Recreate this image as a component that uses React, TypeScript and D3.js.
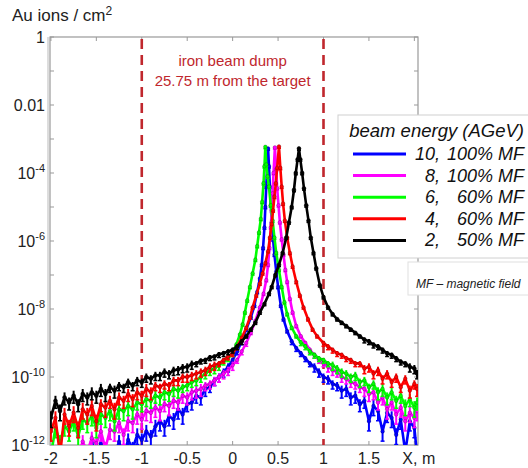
import React from "react";
import * as d3 from "d3";

// x (m), log10(Au ions / cm^2)
const e10: [number, number][] = [
  [-1.60,-12.2],[-1.55,-11.9],[-1.50,-12.3],[-1.45,-11.95],[-1.40,-12.3],[-1.35,-12.4],[-1.30,-12.3],[-1.25,-11.9],[-1.20,-12.3],[-1.15,-11.85],[-1.10,-12.1],[-1.05,-11.7],[-1.00,-11.85],[-0.95,-11.6],[-0.90,-11.75],[-0.85,-11.45],[-0.80,-11.3],[-0.75,-11.45],[-0.70,-11.15],[-0.65,-11.25],[-0.60,-10.95],[-0.55,-11.1],[-0.50,-10.8],[-0.45,-10.75],[-0.40,-10.55],[-0.35,-10.6],[-0.30,-10.35],[-0.25,-10.3],[-0.20,-10.1],[-0.15,-10.0],[-0.10,-9.85],[-0.05,-9.7],[0.00,-9.5],[0.05,-9.25],[0.10,-8.95],[0.15,-8.6],[0.20,-8.25],[0.24,-7.9],[0.27,-7.5],[0.30,-7.1],[0.32,-6.7],[0.335,-6.2],[0.35,-5.6],[0.36,-5.0],[0.37,-4.4],[0.38,-3.8],[0.39,-3.28],[0.40,-3.8],[0.41,-4.4],[0.42,-4.95],[0.43,-5.45],[0.445,-5.95],[0.46,-6.4],[0.48,-6.9],[0.50,-7.35],[0.53,-7.9],[0.56,-8.3],[0.60,-8.65],[0.65,-8.95],[0.70,-9.15],[0.75,-9.3],[0.80,-9.45],[0.85,-9.6],[0.90,-9.7],[0.95,-9.85],[1.00,-10.0],[1.05,-10.05],[1.10,-10.2],[1.15,-10.25],[1.20,-10.4],[1.25,-10.35],[1.30,-10.6],[1.35,-10.55],[1.40,-10.8],[1.45,-10.7],[1.50,-11.3],[1.55,-10.85],[1.60,-11.0],[1.65,-11.6],[1.70,-11.05],[1.75,-11.2],[1.80,-11.7],[1.85,-11.25],[1.90,-12.2],[1.95,-11.3],[2.00,-11.5],[2.03,-12.3]
];
const e8: [number, number][] = [
  [-1.70,-12.3],[-1.65,-11.9],[-1.60,-12.2],[-1.55,-11.8],[-1.50,-11.95],[-1.45,-11.6],[-1.40,-12.1],[-1.35,-11.55],[-1.30,-11.6],[-1.25,-11.35],[-1.20,-11.7],[-1.15,-11.3],[-1.10,-11.35],[-1.05,-11.1],[-1.00,-11.25],[-0.95,-11.0],[-0.90,-11.05],[-0.85,-10.9],[-0.80,-11.0],[-0.75,-10.8],[-0.70,-10.85],[-0.65,-10.7],[-0.60,-10.75],[-0.55,-10.55],[-0.50,-10.6],[-0.45,-10.45],[-0.40,-10.4],[-0.35,-10.35],[-0.30,-10.25],[-0.25,-10.2],[-0.20,-10.1],[-0.15,-10.0],[-0.10,-9.9],[-0.05,-9.8],[0.00,-9.65],[0.05,-9.5],[0.10,-9.25],[0.15,-9.0],[0.20,-8.7],[0.25,-8.35],[0.30,-7.95],[0.34,-7.55],[0.37,-7.15],[0.39,-6.7],[0.405,-6.2],[0.42,-5.6],[0.43,-5.1],[0.44,-4.6],[0.45,-4.0],[0.465,-3.25],[0.48,-3.9],[0.49,-4.45],[0.505,-4.95],[0.52,-5.45],[0.54,-5.95],[0.56,-6.4],[0.58,-6.85],[0.60,-7.2],[0.63,-7.7],[0.66,-8.1],[0.70,-8.5],[0.75,-8.8],[0.80,-9.0],[0.85,-9.2],[0.90,-9.35],[0.95,-9.5],[1.00,-9.6],[1.05,-9.7],[1.10,-9.8],[1.15,-9.85],[1.20,-10.0],[1.25,-10.05],[1.30,-10.15],[1.35,-10.2],[1.40,-10.3],[1.45,-10.35],[1.50,-10.5],[1.55,-10.45],[1.60,-10.75],[1.65,-10.6],[1.70,-10.95],[1.75,-10.75],[1.80,-11.1],[1.85,-10.9],[1.90,-11.3],[1.95,-11.05],[2.00,-11.2],[2.03,-11.0]
];
const e6: [number, number][] = [
  [-2.00,-12.3],[-1.95,-11.5],[-1.90,-11.9],[-1.85,-11.45],[-1.80,-11.6],[-1.75,-11.3],[-1.70,-11.75],[-1.65,-11.25],[-1.60,-11.35],[-1.55,-11.15],[-1.50,-11.5],[-1.45,-11.1],[-1.40,-11.2],[-1.35,-11.0],[-1.30,-11.3],[-1.25,-10.95],[-1.20,-11.0],[-1.15,-10.85],[-1.10,-10.95],[-1.05,-10.75],[-1.00,-10.8],[-0.95,-10.65],[-0.90,-10.7],[-0.85,-10.55],[-0.80,-10.6],[-0.75,-10.45],[-0.70,-10.5],[-0.65,-10.35],[-0.60,-10.4],[-0.55,-10.3],[-0.50,-10.25],[-0.45,-10.15],[-0.40,-10.1],[-0.35,-10.0],[-0.30,-9.9],[-0.25,-9.8],[-0.20,-9.75],[-0.15,-9.65],[-0.10,-9.55],[-0.05,-9.45],[0.00,-9.3],[0.04,-9.05],[0.08,-8.75],[0.11,-8.45],[0.135,-8.1],[0.16,-7.75],[0.19,-7.35],[0.22,-6.95],[0.25,-6.55],[0.27,-6.15],[0.29,-5.75],[0.31,-5.35],[0.325,-4.85],[0.34,-4.3],[0.35,-3.8],[0.36,-3.23],[0.37,-3.75],[0.385,-4.1],[0.40,-4.4],[0.42,-4.95],[0.44,-5.4],[0.46,-5.9],[0.48,-6.35],[0.51,-6.85],[0.54,-7.35],[0.57,-7.8],[0.60,-8.15],[0.65,-8.55],[0.70,-8.8],[0.75,-8.98],[0.80,-9.1],[0.85,-9.25],[0.90,-9.35],[0.95,-9.45],[1.00,-9.5],[1.05,-9.6],[1.10,-9.65],[1.15,-9.75],[1.20,-9.85],[1.25,-9.9],[1.30,-10.0],[1.35,-9.95],[1.40,-10.15],[1.45,-10.1],[1.50,-10.3],[1.55,-10.2],[1.60,-10.45],[1.65,-10.35],[1.70,-10.6],[1.75,-10.45],[1.80,-10.7],[1.85,-10.55],[1.90,-10.85],[1.95,-10.65],[2.00,-10.9],[2.03,-10.75]
];
const e4: [number, number][] = [
  [-2.00,-11.6],[-1.95,-11.2],[-1.90,-12.3],[-1.85,-11.1],[-1.80,-11.45],[-1.75,-11.05],[-1.70,-11.5],[-1.65,-10.95],[-1.60,-11.1],[-1.55,-10.85],[-1.50,-11.3],[-1.45,-10.8],[-1.40,-10.9],[-1.35,-10.7],[-1.30,-10.95],[-1.25,-10.6],[-1.20,-10.7],[-1.15,-10.5],[-1.10,-10.65],[-1.05,-10.45],[-1.00,-10.55],[-0.95,-10.35],[-0.90,-10.45],[-0.85,-10.25],[-0.80,-10.3],[-0.75,-10.2],[-0.70,-10.25],[-0.65,-10.1],[-0.60,-10.1],[-0.55,-10.0],[-0.50,-10.0],[-0.45,-9.95],[-0.40,-9.9],[-0.35,-9.85],[-0.30,-9.8],[-0.25,-9.7],[-0.20,-9.65],[-0.15,-9.6],[-0.10,-9.5],[-0.05,-9.4],[0.00,-9.3],[0.05,-9.1],[0.10,-8.85],[0.15,-8.55],[0.19,-8.25],[0.22,-7.95],[0.26,-7.6],[0.30,-7.25],[0.33,-6.95],[0.36,-6.65],[0.39,-6.3],[0.41,-5.9],[0.43,-5.5],[0.445,-5.1],[0.46,-4.7],[0.475,-4.3],[0.49,-3.85],[0.51,-3.22],[0.525,-3.85],[0.54,-4.4],[0.555,-4.9],[0.575,-5.4],[0.60,-5.9],[0.63,-6.35],[0.66,-6.75],[0.70,-7.2],[0.74,-7.6],[0.78,-7.95],[0.83,-8.3],[0.88,-8.6],[0.93,-8.8],[1.00,-9.0],[1.05,-9.1],[1.10,-9.2],[1.15,-9.3],[1.20,-9.35],[1.25,-9.45],[1.30,-9.5],[1.35,-9.6],[1.40,-9.6],[1.45,-9.75],[1.50,-9.7],[1.55,-9.9],[1.60,-9.8],[1.65,-10.05],[1.70,-9.9],[1.75,-10.15],[1.80,-10.0],[1.85,-10.3],[1.90,-10.05],[1.95,-10.4],[2.00,-10.2],[2.03,-10.35]
];
const e2: [number, number][] = [
  [-2.00,-11.2],[-1.95,-10.7],[-1.90,-11.0],[-1.85,-10.6],[-1.80,-10.75],[-1.75,-10.55],[-1.70,-10.8],[-1.65,-10.5],[-1.60,-10.6],[-1.55,-10.45],[-1.50,-10.55],[-1.45,-10.35],[-1.40,-10.5],[-1.35,-10.3],[-1.30,-10.4],[-1.25,-10.25],[-1.20,-10.3],[-1.15,-10.15],[-1.10,-10.25],[-1.05,-10.1],[-1.00,-10.15],[-0.95,-10.0],[-0.90,-10.05],[-0.85,-9.95],[-0.80,-9.95],[-0.75,-9.85],[-0.70,-9.9],[-0.65,-9.8],[-0.60,-9.78],[-0.55,-9.72],[-0.50,-9.7],[-0.45,-9.62],[-0.40,-9.6],[-0.35,-9.52],[-0.30,-9.5],[-0.25,-9.42],[-0.20,-9.4],[-0.15,-9.33],[-0.10,-9.3],[-0.05,-9.25],[0.00,-9.2],[0.05,-9.1],[0.10,-8.95],[0.15,-8.8],[0.20,-8.6],[0.25,-8.4],[0.30,-8.1],[0.35,-7.85],[0.40,-7.55],[0.43,-7.35],[0.47,-7.0],[0.51,-6.7],[0.55,-6.35],[0.59,-5.9],[0.62,-5.45],[0.65,-5.0],[0.675,-4.5],[0.695,-4.0],[0.715,-3.6],[0.73,-3.28],[0.745,-3.6],[0.765,-4.0],[0.785,-4.45],[0.81,-4.95],[0.835,-5.4],[0.86,-5.9],[0.89,-6.35],[0.92,-6.8],[0.96,-7.3],[1.00,-7.65],[1.05,-7.95],[1.10,-8.15],[1.15,-8.3],[1.20,-8.4],[1.25,-8.5],[1.30,-8.6],[1.35,-8.7],[1.40,-8.8],[1.45,-8.9],[1.50,-8.95],[1.55,-9.05],[1.60,-9.1],[1.65,-9.2],[1.70,-9.3],[1.75,-9.35],[1.80,-9.45],[1.85,-9.55],[1.90,-9.6],[1.95,-9.7],[2.00,-9.75],[2.03,-9.9]
];

const seriesData = [e10, e8, e6, e4, e2];
const seriesColors = ["#0000ff", "#ff00ff", "#00ff00", "#ff0000", "#000000"];
const legendEnergy = ["10,", "8,", "6,", "4,", "2,"];
const legendField = ["100% MF", "100% MF", "60% MF", "60% MF", "50% MF"];

const xTicks = [-2, -1.5, -1, -0.5, 0, 0.5, 1, 1.5, 2];
const xTickLabels = ["-2", "-1.5", "-1", "-0.5", "0", "0.5", "1", "1.5", "X, m"];
const yLabelExps = [0, -2, -4, -6, -8, -10, -12];
const dumpLines = [-1, 1];

const FONT = "'Liberation Sans', Arial, Helvetica, sans-serif";
const DARKRED = "#c0272d";

// marker bar half-height in px, by how deep into the sparse tail a point lies
function barSize(v: number) {
  if (v < -10.8) return 6.5;
  if (v < -10.3) return 5;
  if (v < -9.6) return 3.5;
  if (v < -8.8) return 2.2;
  return 1.2;
}

export default function App() {
  const W = 528, H = 468;
  const L = 50, R = 418, T = 37, B = 445;
  const x = d3.scaleLinear().domain([-2.01, 2.04]).range([L, R]);
  const y = d3.scaleLog().domain([1e-12, 1]).range([B, T]);
  const line = d3
    .line<[number, number]>()
    .x((d) => x(d[0]))
    .y((d) => y(Math.pow(10, d[1])));

  const decades = d3.range(-12, 1);

  return (
    <svg
      width={W}
      height={H}
      style={{ position: "absolute", left: 0, top: 0, background: "#fff" }}
      fontFamily={FONT}
    >
      <defs>
        <clipPath id="plotclip">
          <rect x={L} y={T} width={R - L} height={B - T} />
        </clipPath>
      </defs>
      <rect x={0} y={0} width={W} height={H} fill="#fff" />

      {/* y title */}
      <text x={12} y={21} fontSize={17} fill="#222">
        Au ions / cm<tspan dy={-6} fontSize={12}>2</tspan>
      </text>

      {/* frame */}
      <rect x={L} y={T} width={R - L} height={B - T} fill="none" stroke="#999" strokeWidth={1.2} />
      <line x1={L - 2} x2={L - 2} y1={T} y2={B} stroke="#bbb" strokeWidth={1} />

      {/* ticks */}
      {xTicks.map((t) => (
        <g key={"xt" + t}>
          <line x1={x(t)} x2={x(t)} y1={B} y2={B - 4} stroke="#999" />
          <line x1={x(t)} x2={x(t)} y1={T} y2={T + 4} stroke="#999" />
        </g>
      ))}
      {decades.map((e) => (
        <g key={"yt" + e}>
          <line x1={L} x2={L + 4} y1={y(Math.pow(10, e))} y2={y(Math.pow(10, e))} stroke="#999" />
          <line x1={R} x2={R - 4} y1={y(Math.pow(10, e))} y2={y(Math.pow(10, e))} stroke="#999" />
        </g>
      ))}

      {/* x tick labels */}
      {xTicks.map((t, i) => (
        <text
          key={"xl" + t}
          x={i === xTicks.length - 1 ? x(t) - 12 : x(t)}
          y={464}
          fontSize={16}
          textAnchor={i === xTicks.length - 1 ? "start" : "middle"}
          fill="#222"
        >
          {xTickLabels[i]}
        </text>
      ))}

      {/* y tick labels */}
      {yLabelExps.map((e) => {
        const yy = y(Math.pow(10, e)) + 6;
        if (e === 0)
          return (
            <text key="y0" x={45} y={yy} fontSize={16} textAnchor="end" fill="#222">1</text>
          );
        if (e === -2)
          return (
            <text key="y2" x={45} y={yy} fontSize={16} textAnchor="end" fill="#222">0.01</text>
          );
        return (
          <text key={"y" + e} x={45} y={yy} fontSize={16} textAnchor="end" fill="#222">
            10<tspan dy={-7} fontSize={11}>{String(e)}</tspan>
          </text>
        );
      })}

      {/* iron beam dump lines */}
      {dumpLines.map((v) => (
        <line
          key={"d" + v}
          x1={x(v)}
          x2={x(v)}
          y1={T + 2}
          y2={B}
          stroke={DARKRED}
          strokeWidth={2.6}
          strokeDasharray="10,6"
        />
      ))}
      <text x={x(0)} y={66} fontSize={15} fill={DARKRED} textAnchor="middle">iron beam dump</text>
      <text x={x(0)} y={86} fontSize={15} fill={DARKRED} textAnchor="middle">25.75 m from the target</text>

      {/* series */}
      <g clipPath="url(#plotclip)">
        {seriesData.map((s, i) => (
          <g key={"s" + i}>
            <path
              d={line(s) || ""}
              fill="none"
              stroke={seriesColors[i]}
              strokeWidth={2.6}
              strokeLinejoin="round"
            />
            {s.map((p, j) => {
              const cx = x(p[0]);
              const cy = y(Math.pow(10, p[1]));
              const h = barSize(p[1]);
              return (
                <g key={j}>
                  <line x1={cx} x2={cx} y1={cy - h} y2={cy + h * 1.5} stroke={seriesColors[i]} strokeWidth={2} />
                  <line x1={cx - 2} x2={cx + 2} y1={cy + h * 1.5} y2={cy + h * 1.5} stroke={seriesColors[i]} strokeWidth={1.5} />
                  <circle
                    cx={cx}
                    cy={cy}
                    r={1.9}
                    fill={seriesColors[i]}
                    stroke={i === 4 ? "#000" : "rgba(0,0,0,0.35)"}
                    strokeWidth={0.6}
                  />
                </g>
              );
            })}
          </g>
        ))}
      </g>

      {/* legend */}
      <rect x={338} y={115} width={200} height={143} fill="#fff" stroke="#d0d0d0" strokeWidth={1} />
      <text x={524} y={137} fontSize={18.5} fontStyle="italic" textAnchor="end" fill="#111">
        beam energy (AGeV)
      </text>
      {seriesColors.map((c, i) => {
        const yy = 154 + i * 21.6;
        return (
          <g key={"lg" + i}>
            <line x1={353} x2={406} y1={yy} y2={yy} stroke={c} strokeWidth={3} />
            <text x={440} y={yy + 6} fontSize={18} fontStyle="italic" textAnchor="end" fill="#111">
              {legendEnergy[i]}
            </text>
            <text x={524} y={yy + 6} fontSize={18} fontStyle="italic" textAnchor="end" fill="#111">
              {legendField[i]}
            </text>
          </g>
        );
      })}
      <rect x={408} y={262} width={125} height={33} fill="#fff" stroke="#e0e0e0" strokeWidth={1} />
      <text x={416} y={288} fontSize={12} fontStyle="italic" fill="#222">
        MF – magnetic field
      </text>
    </svg>
  );
}
